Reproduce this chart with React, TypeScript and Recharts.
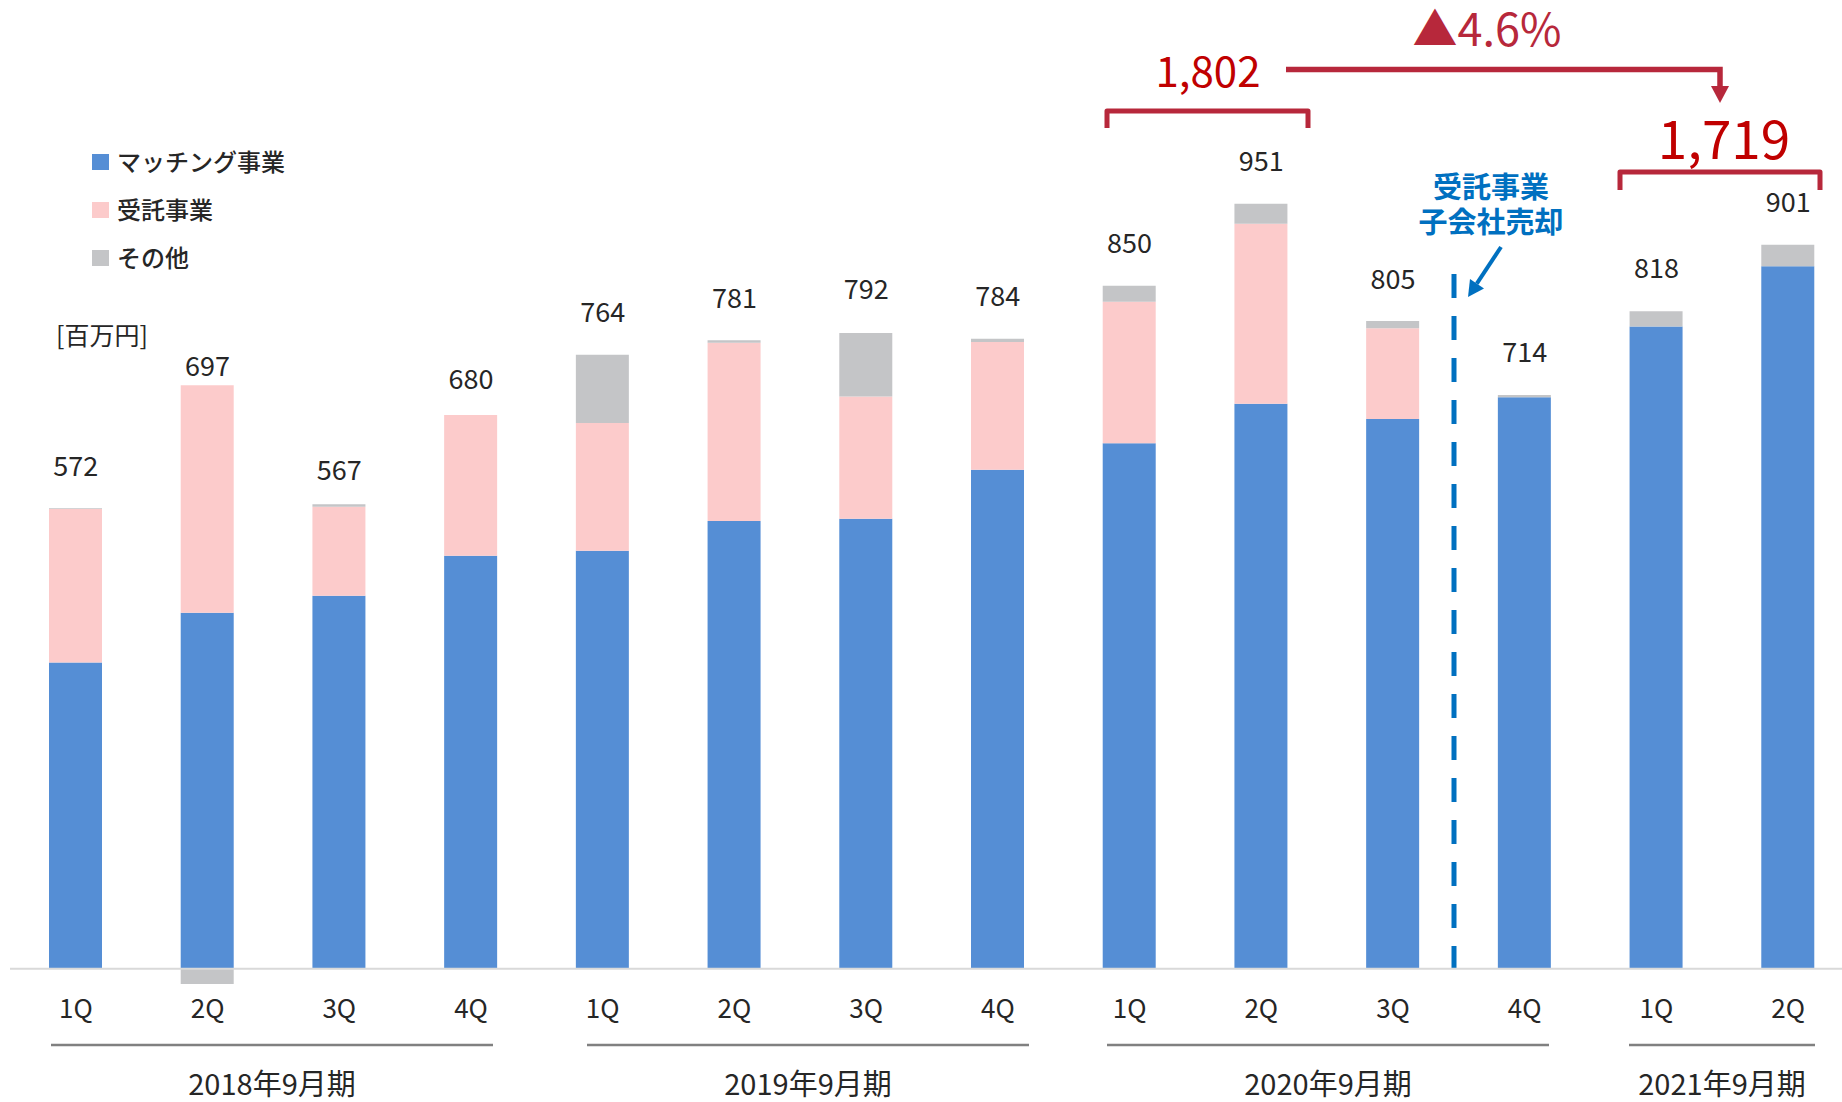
import {
  ComposedChart,
  Bar,
  Line,
  XAxis,
  YAxis,
  LabelList,
  ReferenceLine,
  Customized,
} from "recharts";

// quarter labels along the axis
const quarters = ["1Q", "2Q", "3Q", "4Q", "1Q", "2Q", "3Q", "4Q", "1Q", "2Q", "3Q", "4Q", "1Q", "2Q"];

// segment values (百万円)
const matching = [381, 443, 464, 514, 520, 557, 560, 621, 654, 703, 684, 711, 799, 874];
const itaku = [191, 283, 111, 175, 159, 222, 152, 159, 176, 224, 113, 0, 0, 0];
const other = [1, -19, 3, 0, 85, 3, 79, 4, 20, 25, 9, 3, 19, 27];

// printed totals above each bar
const totals = [572, 697, 567, 680, 764, 781, 792, 784, 850, 951, 805, 714, 818, 901];

// fiscal year groups
const fiscalYears = ["2018年9月期", "2019年9月期", "2020年9月期", "2021年9月期"];

const data = quarters.map((q, i) => ({
  q,
  matching: matching[i],
  itaku: itaku[i],
  other: other[i],
  total: totals[i],
}));

const FONT = "'Noto Sans CJK JP', 'Noto Sans', sans-serif";
const TEXT = "#262626";
const BLUE = "#558ED5";
const PINK = "#FCCBCB";
const GRAY = "#C4C5C7";
const RED = "#C00000";
const CRIMSON = "#B7283B";
const NAVY = "#0070C0";

const W = 1854;
const H = 1102;
const M = { top: 44.5, right: 0, bottom: 63, left: 10 };
const X_AXIS_H = 30;
const Y_MIN = -50;
const Y_MAX = 1150;
const PLOT_H = H - M.top - M.bottom - X_AXIS_H;
const BAR = 53;

// underline spans of the fiscal-year groups (px)
const GROUP_LINES = [
  [51, 493],
  [587, 1029],
  [1107, 1549],
  [1629, 1815],
];

const yOf = (v: number) => M.top + ((Y_MAX - v) / (Y_MAX - Y_MIN)) * PLOT_H;

const QuarterTick = (props: any) => (
  <text
    x={props.x}
    y={1018}
    textAnchor="middle"
    fontSize={26}
    fontFamily={FONT}
    fill={TEXT}
  >
    {props.payload.value}
  </text>
);

const TotalLabel = (props: any) => (
  <text
    x={props.x}
    y={props.y - 43 + 10}
    textAnchor="middle"
    fontSize={27}
    fontFamily={FONT}
    fill={TEXT}
  >
    {props.value}
  </text>
);

const legendItems = [
  { name: "マッチング事業", color: BLUE },
  { name: "受託事業", color: PINK },
  { name: "その他", color: GRAY },
];

function Annotations() {
  const base = yOf(0);
  const dashX = 1454;
  return (
    <g fontFamily={FONT}>
      {/* legend */}
      {legendItems.map((it, i) => {
        const c = 162 + i * 48;
        return (
          <g key={it.name}>
            <rect x={92} y={c - 8} width={17} height={16} fill={it.color} />
            <text x={117} y={c + 9} fontSize={24} fontWeight={500} fill={TEXT}>
              {it.name}
            </text>
          </g>
        );
      })}
      <text x={56} y={345} fontSize={25} fill={TEXT}>
        [百万円]
      </text>

      {/* fiscal year groups */}
      {fiscalYears.map((fy, k) => {
        const [x1, x2] = GROUP_LINES[k];
        return (
          <g key={fy}>
            <line x1={x1} x2={x2} y1={1045} y2={1045} stroke="#808080" strokeWidth={2.5} />
            <text
              x={(x1 + x2) / 2}
              y={1095}
              textAnchor="middle"
              fontSize={29}
              fill={TEXT}
            >
              {fy}
            </text>
          </g>
        );
      })}

      {/* divestiture marker */}
      <line
        x1={dashX}
        x2={dashX}
        y1={274}
        y2={base}
        stroke={NAVY}
        strokeWidth={5}
        strokeDasharray="24 18"
      />
      <text x={1491} y={198} textAnchor="middle" fontSize={29} fontWeight={700} fill={NAVY}>
        受託事業
      </text>
      <text x={1491} y={233} textAnchor="middle" fontSize={29} fontWeight={700} fill={NAVY}>
        子会社売却
      </text>
      <line x1={1501} y1={247} x2={1476.8} y2={283.6} stroke={NAVY} strokeWidth={4} />
      <polygon points="1468,297 1484,288.5 1470,279" fill={NAVY} />

      {/* half-year comparison */}
      <path
        d="M1107 128 V111 H1308 V128"
        fill="none"
        stroke={CRIMSON}
        strokeWidth={5}
        strokeLinejoin="round"
      />
      <path
        d="M1620 190 V172 H1820 V190"
        fill="none"
        stroke={CRIMSON}
        strokeWidth={5}
        strokeLinejoin="round"
      />
      <text x={1208} y={86.5} textAnchor="middle" fontSize={42} fill={RED}>
        1,802
      </text>
      <text x={1724} y={159} textAnchor="middle" fontSize={53} fill={RED}>
        1,719
      </text>
      <path
        d="M1286 69.5 H1720 V88"
        fill="none"
        stroke={CRIMSON}
        strokeWidth={5.5}
      />
      <polygon points="1711,86 1729,86 1720,103" fill={CRIMSON} />
      <text x={1487} y={46} textAnchor="middle" fontSize={45} fill={CRIMSON}>
        ▲4.6%
      </text>
    </g>
  );
}

export default function App() {
  return (
    <div
      style={{
        position: "fixed",
        top: 0,
        left: 0,
        width: 1842,
        height: 1102,
        overflow: "hidden",
        background: "#ffffff",
      }}
    >
      <ComposedChart
        width={W}
        height={H}
        data={data}
        margin={M}
        stackOffset="sign"
        barCategoryGap={0}
      >
        <XAxis
          dataKey="q"
          height={X_AXIS_H}
          axisLine={false}
          tickLine={false}
          interval={0}
          tick={<QuarterTick />}
        />
        <YAxis hide domain={[Y_MIN, Y_MAX]} allowDataOverflow />
        <Bar dataKey="matching" stackId="s" fill={BLUE} barSize={BAR} isAnimationActive={false} />
        <Bar dataKey="itaku" stackId="s" fill={PINK} barSize={BAR} isAnimationActive={false} />
        <Bar dataKey="other" stackId="s" fill={GRAY} barSize={BAR} isAnimationActive={false} />
        <ReferenceLine y={0} stroke="#D9D9D9" strokeWidth={2} />
        <Line
          dataKey="total"
          stroke="none"
          dot={false}
          activeDot={false}
          isAnimationActive={false}
        >
          <LabelList dataKey="total" content={<TotalLabel />} />
        </Line>
        <Customized component={Annotations} />
      </ComposedChart>
    </div>
  );
}
